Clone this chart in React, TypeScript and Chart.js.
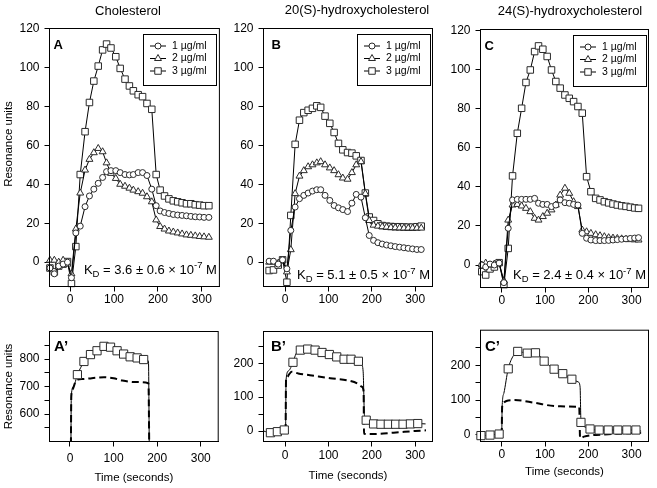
import React, { useEffect, useRef } from 'react';
import { Chart, registerables } from 'chart.js';

Chart.register(...registerables);

const FONT = '"Liberation Sans", Arial, Helvetica, sans-serif';
const EDGE = '#2a2a2a';

// ---------------- Data: top panels (time in s, response in RU) ----------------
const TIME_A = [-46, -36, -26, -16, -6, 3, 13, 23, 34, 44, 54, 64, 74, 83, 93, 104, 114, 125, 135, 144, 155, 165, 175, 186, 196, 205, 215, 225, 235, 245, 255, 265, 275, 285, 295, 305, 316];
const A_1UG = [-3, -6, -2, -1, 0, -8, 15, 18.5, 28.5, 34, 37.5, 40.5, 43.5, 46.5, 47, 47, 46, 45, 44.8, 45, 46, 46, 44.5, 37.5, 29, 26.3, 25.5, 25, 24.5, 24.2, 24, 23.8, 23.5, 23.3, 23.2, 23, 23];
const A_2UG = [1, 1, 0, 1, -1, -6, 17, 35.5, 47.3, 52.8, 56.2, 58.4, 56.7, 51, 45.6, 43, 40, 39, 38, 37, 36.2, 35.4, 33.6, 31, 21.7, 18.3, 17, 16, 15.5, 15, 14.5, 14, 13.8, 13.5, 13.2, 13, 12.8];
const A_3UG = [-3, -5, -2, -1, 0.3, -11, 8, 45, 67, 82, 93, 100.7, 109, 112, 110, 105.5, 99.5, 94, 90.5, 88, 86, 85, 81.5, 78.5, 45, 37, 34, 32.5, 31.5, 31, 30.5, 30, 30, 29.5, 29.3, 29, 29];

const TIME_B = [-37, -27, -16, -6, 4, 13, 23, 33, 43, 53, 63, 73, 82, 92, 103, 113, 123, 133, 144, 154, 164, 175, 185, 194, 204, 214, 224, 234, 244, 254, 264, 274, 284, 294, 304, 314];
const B_1UG = [0.5, 0.5, -1, 1.2, -3.4, 16.3, 28.3, 32.6, 34.3, 35.5, 36.5, 37.2, 37.2, 34.3, 31.7, 29.1, 27.9, 27, 26, 30.3, 34.8, 33.4, 22.8, 13.7, 11.2, 10, 9.3, 8.8, 8.4, 8, 7.7, 7.4, 7.1, 6.8, 6.5, 6.5];
const B_2UG = [0, 0, -0.5, 1, -5, 6.4, 35.2, 44.2, 47, 49, 50, 51, 51.6, 50, 48.4, 47, 44.9, 43.2, 42.6, 46, 50, 51.6, 35.2, 21.4, 19, 18.5, 18.2, 18, 17.8, 17.7, 17.6, 17.5, 17.5, 17.5, 17.5, 17.5];
const B_3UG = [-4.3, -4, -1.5, 1.2, -10.3, 24, 60.5, 72.9, 76.8, 78, 79, 80.3, 79.5, 75, 71.3, 66.6, 61, 57.7, 56.3, 56, 54.6, 52.2, 35.5, 23.2, 21.4, 19.7, 18.8, 18.5, 18.3, 18.2, 18.2, 18.1, 18, 18, 18.2, 18.5];

const TIME_C = [-46, -37, -27, -17, -6, 5, 15, 25, 36, 46, 56, 66, 76, 85, 95, 105, 115, 125, 135, 146, 156, 166, 176, 186, 196, 206, 217, 227, 237, 247, 257, 267, 277, 287, 297, 307, 316];
const C_1UG = [0, -1, 0.5, 0, 1, -9, 18.8, 33.3, 33.6, 33.6, 33.6, 33.6, 34.1, 31.6, 31, 31, 29.9, 30.7, 33.3, 31.9, 31.6, 31, 30.7, 16.2, 13.7, 12.8, 12.5, 12.5, 12.5, 12.6, 12.8, 13, 13.2, 13.4, 13.6, 13.8, 14];
const C_2UG = [0, 1, 0, 0.5, 1, -8, 23, 30.7, 31, 30.2, 29, 27.3, 23.9, 23, 24.8, 26.5, 28.2, 30.7, 35.8, 39.3, 36.7, 32.4, 29.9, 17.9, 17, 16.2, 15.5, 15, 14.5, 14, 13.8, 13.6, 13.4, 13.2, 13, 12.9, 12.8];
const C_3UG = [-3.4, -5.1, -2, -1, 1.2, -10.2, 8.5, 45.6, 67.4, 80.2, 93.4, 99.8, 109.2, 112.1, 110.4, 106.7, 99.8, 93.9, 90.5, 87, 85.3, 83.6, 81.1, 77.7, 45.2, 37.5, 34.1, 33.3, 32.4, 31.8, 31.2, 30.7, 30.3, 30, 29.6, 29.2, 29];

// ---------------- Data: bottom panels ----------------
const TIME_A2_LINE = [2, 3, 8, 17, 25, 32, 47, 62, 78, 93, 108, 123, 138, 154, 169, 180, 182];
const A2_LINE = [450, 665, 700, 743, 770, 791, 815, 830, 846, 843, 830, 818, 808, 804, 798, 793, 450];
const TIME_A2_SQ = [17, 32, 47, 62, 78, 93, 108, 123, 138, 154, 169];
const A2_SQ = [743, 791, 816, 830, 846, 843, 830, 818, 808, 804, 798];
const TIME_A2_DASH = [2, 3, 6, 12, 18, 30, 50, 78, 100, 120, 150, 180, 182];
const A2_DASH = [450, 665, 690, 715, 725, 727, 730, 734, 730, 722, 716, 712, 450];

const TIME_B2_LINE = [-50, -34, -18, -2, 1, 2, 8, 18, 25, 35, 52, 69, 85, 102, 119, 136, 152, 169, 176, 180, 183, 187, 196, 204, 221, 238, 255, 272, 289, 306, 324];
const B2_LINE = [0, -5, -2, 3, 5, 150, 178, 203, 228, 239, 242, 239, 232, 226, 219, 212, 212, 206, 198, 175, 45, 32, 24, 21, 20, 20, 20, 20, 21, 22, 21];
const TIME_B2_SQ = [-34, -18, -2, 18, 35, 52, 69, 85, 102, 119, 136, 152, 169, 187, 204, 221, 238, 255, 272, 289, 306];
const B2_SQ = [-5, -2, 3, 203, 239, 242, 239, 232, 226, 219, 212, 212, 206, 32, 21, 20, 20, 20, 20, 21, 22];
const TIME_B2_DASH = [1, 2, 5, 9, 15, 30, 57, 104, 150, 166, 177, 181, 182, 200, 250, 300, 325];
const B2_DASH = [0, 150, 160, 167, 175, 170, 165, 156, 148, 141, 131, 117, -8, -9, -5, 0, 2];

const TIME_C2_LINE = [-50, -48, -27, -6, 0, 1, 5, 15, 27, 37, 59, 78, 98, 121, 141, 162, 177, 181, 183, 190, 204, 225, 246, 268, 289, 310, 322];
const C2_LINE = [-2, -2, -0.5, 2.4, 3, 81, 120, 190, 228, 240, 235, 236, 212, 189, 176, 160, 152, 138, 40, 24, 17, 14, 14, 14, 14, 14, 11];
const TIME_C2_SQ = [-48, -27, -6, 15, 37, 59, 78, 98, 121, 141, 162, 183, 204, 225, 246, 268, 289, 310];
const C2_SQ = [-2, -0.5, 2.4, 190, 240, 235, 236, 212, 189, 176, 160, 36, 17, 14, 14, 14, 14, 14];
const TIME_C2_DASH = [0, 1, 3, 7, 15, 30, 77, 123, 177, 179, 181, 190, 246, 322];
const C2_DASH = [0, 81, 90, 95, 99, 100, 92, 83, 81, 80, -9.5, -5, 2, 6];

// ---------------- Ticks and labels ----------------
const X_TICKS = [0, 100, 200, 300];
const Y_TICKS_TOP = [0, 20, 40, 60, 80, 100, 120];
const Y_TICKS_A2 = [550, 600, 650, 700, 750, 800, 850];
const Y_LABELS_A2 = [600, 700, 800];
const Y_TICKS_B2 = [0, 50, 100, 150, 200, 250];
const Y_LABELS_B2 = [0, 100, 200];
const Y_TICKS_C2 = [0, 50, 100, 150, 200, 250];
const Y_LABELS_C2 = [0, 100, 200];

const SERIES_LABELS = ['1 µg/ml', '2 µg/ml', '3 µg/ml'];
const SERIES_STYLES = ['circle', 'triangle', 'rect'];
const TITLES = ['Cholesterol', '20(S)-hydroxycholesterol', '24(S)-hydroxycholesterol'];
const KD_VALUES = ['3.6 ± 0.6', '5.1 ± 0.5', '2.4 ± 0.4'];
const LETTERS = ['A', 'B', 'C', 'A’', 'B’', 'C’'];
const Y_TITLE = 'Resonance units';
const X_TITLE = 'Time (seconds)';

// ---------------- helpers ----------------
const pts = (xs: number[], ys: number[]) => xs.map((x, i) => ({ x, y: ys[i] }));

function markerSeries(xs: number[], ys: number[], style: string, radius: number) {
  return {
    data: pts(xs, ys),
    borderColor: '#000',
    borderWidth: 1,
    pointStyle: style,
    pointRadius: radius,
    pointHoverRadius: radius,
    pointBackgroundColor: '#fff',
    pointBorderColor: EDGE,
    pointBorderWidth: 1,
    tension: 0,
    fill: false,
    clip: { left: 6, top: 0, right: 0, bottom: 1 },
  };
}

function topSets(t: number[], s1: number[], s2: number[], s3: number[]) {
  return [
    markerSeries(t, s1, 'circle', 3),
    markerSeries(t, s2, 'triangle', 4),
    markerSeries(t, s3, 'rect', 4.6),
  ];
}

function bottomSets(tl: number[], vl: number[], ts: number[], vs: number[], td: number[], vd: number[]) {
  return [
    {
      data: pts(ts, vs),
      showLine: false,
      pointStyle: 'rect',
      pointRadius: 5.8,
      pointHoverRadius: 5.8,
      pointBackgroundColor: '#fff',
      pointBorderColor: EDGE,
      pointBorderWidth: 1,
      clip: { left: 8, top: 0, right: 0, bottom: 0 },
    },
    {
      data: pts(tl, vl),
      borderColor: '#000',
      borderWidth: 1,
      pointRadius: 0,
      cubicInterpolationMode: 'monotone',
      fill: false,
      clip: 0,
    },
    {
      data: pts(td, vd),
      borderColor: '#000',
      borderWidth: 2,
      borderDash: [7, 4],
      pointRadius: 0,
      cubicInterpolationMode: 'monotone',
      fill: false,
      clip: 0,
    },
  ];
}

function drawMarker(ctx: CanvasRenderingContext2D, style: string, x: number, y: number) {
  ctx.beginPath();
  if (style === 'circle') {
    ctx.arc(x, y, 3, 0, Math.PI * 2);
  } else if (style === 'triangle') {
    const r = 4;
    for (let k = 0; k < 3; k++) {
      const ang = (k * 2 * Math.PI) / 3;
      const px = x + Math.sin(ang) * r;
      const py = y - Math.cos(ang) * r;
      if (k === 0) ctx.moveTo(px, py);
      else ctx.lineTo(px, py);
    }
    ctx.closePath();
  } else {
    const s = 3.25;
    ctx.rect(x - s, y - s, 2 * s, 2 * s);
  }
  ctx.fillStyle = '#fff';
  ctx.fill();
  ctx.strokeStyle = EDGE;
  ctx.lineWidth = 1;
  ctx.stroke();
}

const annotPlugin = {
  id: 'annot',
  afterDraw(chart: any, _args: any, o: any) {
    const ctx: CanvasRenderingContext2D = chart.ctx;
    const a = chart.chartArea;
    ctx.save();
    ctx.setLineDash([]);
    ctx.strokeStyle = '#000';
    ctx.lineWidth = 1;
    ctx.strokeRect(a.left, a.top, a.right - a.left, a.bottom - a.top);

    ctx.fillStyle = '#000';
    ctx.textAlign = 'left';
    ctx.textBaseline = 'alphabetic';
    ctx.font = `bold ${o.letterSize}px ${FONT}`;
    ctx.fillText(o.letter, a.left + o.letterDx, o.letterY);

    if (o.title) {
      ctx.font = `13px ${FONT}`;
      ctx.textAlign = 'center';
      ctx.textBaseline = 'middle';
      ctx.fillText(o.title, o.titleX, o.titleY);
    }

    if (o.yTitle) {
      ctx.save();
      ctx.translate(o.yTitleX, o.yTitleY);
      ctx.rotate(-Math.PI / 2);
      ctx.font = `11.5px ${FONT}`;
      ctx.textAlign = 'center';
      ctx.textBaseline = 'middle';
      ctx.fillText(o.yTitle, 0, 0);
      ctx.restore();
    }

    if (o.legend) {
      const lx = Math.round(a.right - 76) + 0.5;
      const ly = Math.round(a.top + 5) + 0.5;
      const lw = 73;
      const lh = 51;
      ctx.fillStyle = '#fff';
      ctx.fillRect(lx, ly, lw, lh);
      ctx.strokeStyle = '#000';
      ctx.lineWidth = 1;
      ctx.strokeRect(lx, ly, lw, lh);
      for (let i = 0; i < 3; i++) {
        const yy = ly + 11.5 + i * 12.5;
        ctx.beginPath();
        ctx.moveTo(lx + 6.5, yy);
        ctx.lineTo(lx + 22.5, yy);
        ctx.strokeStyle = '#000';
        ctx.stroke();
        drawMarker(ctx, SERIES_STYLES[i], lx + 14.5, yy);
        ctx.fillStyle = '#000';
        ctx.font = `10.5px ${FONT}`;
        ctx.textAlign = 'left';
        ctx.textBaseline = 'middle';
        ctx.fillText(SERIES_LABELS[i], lx + 28.5, yy);
      }
    }

    if (o.kd) {
      const main = `13px ${FONT}`;
      const small = `9.5px ${FONT}`;
      const parts: [string, string, number][] = [
        ['K', main, 0],
        ['D', small, 3],
        [' = ' + o.kd + ' × 10', main, 0],
        ['-7', small, -5.5],
        [' M', main, 0],
      ];
      ctx.textAlign = 'left';
      ctx.textBaseline = 'alphabetic';
      ctx.fillStyle = '#000';
      let total = 0;
      for (const p of parts) {
        ctx.font = p[1];
        total += ctx.measureText(p[0]).width;
      }
      let x = a.right - 2.5 - total;
      for (const p of parts) {
        ctx.font = p[1];
        ctx.fillText(p[0], x, o.kdY + p[2]);
        x += ctx.measureText(p[0]).width;
      }
    }
    ctx.restore();
  },
};

type PanelSpec = {
  x: number; y: number; w: number; h: number;
  yAxisW: number; padTop: number; padRight: number; xAxisH: number;
  xMin: number; xMax: number; yMin: number; yMax: number;
  yTicks: number[]; yLabels: number[];
  xTickPad: number; xTitlePad?: number; yTitlePad?: number;
  datasets: any[];
  annot: any;
};

const PANELS: PanelSpec[] = [
  {
    x: 0, y: 0, w: 225, h: 310, yAxisW: 49.5, padTop: 28.5, padRight: 5.5, xAxisH: 23.5,
    xMin: -47, xMax: 340, yMin: -12.5, yMax: 120, yTicks: Y_TICKS_TOP, yLabels: Y_TICKS_TOP, xTickPad: 1,
    datasets: topSets(TIME_A, A_1UG, A_2UG, A_3UG),
    annot: { letter: LETTERS[0], letterSize: 13, letterDx: 4, letterY: 48.5, title: TITLES[0], titleX: 128, titleY: 11,
      yTitle: Y_TITLE, yTitleX: 9.3, yTitleY: 144, legend: true, kd: KD_VALUES[0], kdY: 273.5 },
  },
  {
    x: 225, y: 0, w: 215, h: 310, yAxisW: 38.5, padTop: 28.5, padRight: 7.5, xAxisH: 23.5,
    xMin: -50, xMax: 340, yMin: -12.5, yMax: 120, yTicks: Y_TICKS_TOP, yLabels: Y_TICKS_TOP, xTickPad: 1,
    datasets: topSets(TIME_B, B_1UG, B_2UG, B_3UG),
    annot: { letter: LETTERS[1], letterSize: 13, letterDx: 8, letterY: 48.5, title: TITLES[1], titleX: 132, titleY: 10.5,
      legend: true, kd: KD_VALUES[1], kdY: 279 },
  },
  {
    x: 440, y: 0, w: 217, h: 310, yAxisW: 40.5, padTop: 29.5, padRight: 8.5, xAxisH: 22.5,
    xMin: -49, xMax: 339, yMin: -11.5, yMax: 120.5, yTicks: Y_TICKS_TOP, yLabels: Y_TICKS_TOP, xTickPad: 1,
    datasets: topSets(TIME_C, C_1UG, C_2UG, C_3UG),
    annot: { letter: LETTERS[2], letterSize: 13, letterDx: 4, letterY: 49.5, title: TITLES[2], titleX: 130, titleY: 11,
      legend: true, kd: KD_VALUES[2], kdY: 279 },
  },
  {
    x: 0, y: 318, w: 225, h: 170, yAxisW: 49.5, padTop: 13.5, padRight: 5.5, xAxisH: 46.5,
    xMin: -47, xMax: 340, yMin: 500, yMax: 900, yTicks: Y_TICKS_A2, yLabels: Y_LABELS_A2, xTickPad: 4.5, xTitlePad: 2.8, yTitlePad: 2.4,
    datasets: bottomSets(TIME_A2_LINE, A2_LINE, TIME_A2_SQ, A2_SQ, TIME_A2_DASH, A2_DASH),
    annot: { letter: LETTERS[3], letterSize: 15, letterDx: 4.5, letterY: 32.5 },
  },
  {
    x: 225, y: 318, w: 215, h: 170, yAxisW: 38.5, padTop: 13.5, padRight: 7.5, xAxisH: 46.5,
    xMin: -50, xMax: 340, yMin: -31, yMax: 294, yTicks: Y_TICKS_B2, yLabels: Y_LABELS_B2, xTickPad: 1.5, xTitlePad: 5,
    datasets: bottomSets(TIME_B2_LINE, B2_LINE, TIME_B2_SQ, B2_SQ, TIME_B2_DASH, B2_DASH),
    annot: { letter: LETTERS[4], letterSize: 15, letterDx: 7.5, letterY: 32.5 },
  },
  {
    x: 440, y: 318, w: 217, h: 170, yAxisW: 40.5, padTop: 11.5, padRight: 8.5, xAxisH: 46.5,
    xMin: -49, xMax: 339, yMin: -19, yMax: 301, yTicks: Y_TICKS_C2, yLabels: Y_LABELS_C2, xTickPad: 1.3, xTitlePad: 9.4,
    datasets: bottomSets(TIME_C2_LINE, C2_LINE, TIME_C2_SQ, C2_SQ, TIME_C2_DASH, C2_DASH),
    annot: { letter: LETTERS[5], letterSize: 15, letterDx: 4.5, letterY: 32.5 },
  },
];

function buildConfig(p: PanelSpec): any {
  const tickFont = { family: FONT, size: 12 };
  const grid = { display: true, drawOnChartArea: false, drawTicks: true, tickLength: 5, tickColor: '#000', tickWidth: 1 };
  const border = { display: true, color: '#000', width: 1 };
  return {
    type: 'line',
    data: { datasets: p.datasets },
    options: {
      animation: false,
      responsive: false,
      maintainAspectRatio: false,
      events: [],
      layout: { padding: { left: 0, top: p.padTop, right: p.padRight, bottom: 0 } },
      plugins: {
        legend: { display: false },
        tooltip: { enabled: false },
        annot: p.annot,
      },
      scales: {
        x: {
          type: 'linear',
          min: p.xMin,
          max: p.xMax,
          afterBuildTicks: (s: any) => { s.ticks = X_TICKS.map((v) => ({ value: v })); },
          afterFit: (s: any) => { s.height = p.xAxisH; },
          grid,
          border,
          ticks: { font: tickFont, color: '#000', padding: p.xTickPad, maxRotation: 0, autoSkip: false, callback: (v: any) => String(v) },
          title: p.xTitlePad !== undefined
            ? { display: true, text: X_TITLE, font: { family: FONT, size: 11.5 }, color: '#000', padding: { top: 0, bottom: p.xTitlePad } }
            : { display: false },
        },
        y: {
          type: 'linear',
          min: p.yMin,
          max: p.yMax,
          afterBuildTicks: (s: any) => { s.ticks = p.yTicks.map((v) => ({ value: v })); },
          afterFit: (s: any) => { s.width = p.yAxisW; },
          grid,
          border,
          ticks: { font: tickFont, color: '#000', padding: 5, autoSkip: false, callback: (v: any) => (p.yLabels.includes(v) ? String(v) : '') },
          title: p.yTitlePad !== undefined
            ? { display: true, text: Y_TITLE, font: { family: FONT, size: 11.5 }, color: '#000', padding: { top: p.yTitlePad, bottom: 0 } }
            : { display: false },
        },
      },
    },
    plugins: [annotPlugin],
  };
}

function PanelChart({ spec }: { spec: PanelSpec }) {
  const ref = useRef<HTMLCanvasElement>(null);
  useEffect(() => {
    if (!ref.current) return;
    const chart = new Chart(ref.current, buildConfig(spec));
    return () => chart.destroy();
  }, [spec]);
  return (
    <canvas
      ref={ref}
      width={spec.w}
      height={spec.h}
      style={{ position: 'absolute', left: spec.x, top: spec.y, width: spec.w, height: spec.h }}
    />
  );
}

export default function App() {
  return (
    <div style={{ position: 'absolute', left: 0, top: 0, width: 657, height: 488, background: '#fff', overflow: 'hidden' }}>
      {PANELS.map((p, i) => (
        <PanelChart key={i} spec={p} />
      ))}
    </div>
  );
}
